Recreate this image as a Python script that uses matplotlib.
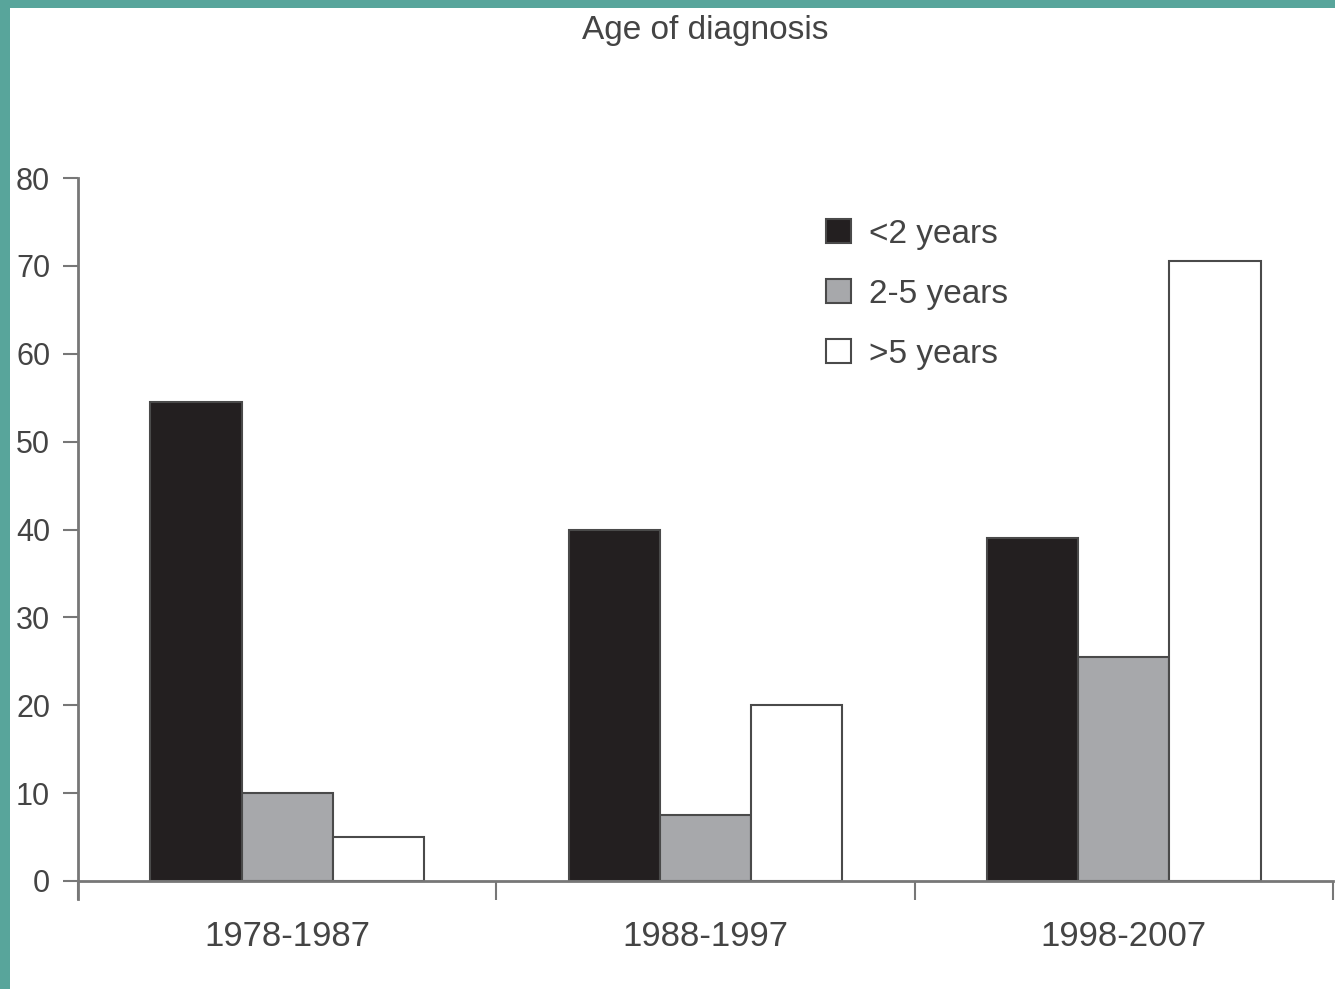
import matplotlib.pyplot as plt
import matplotlib.patches as mpatches
import numpy as np

periods = ["1978-1987", "1988-1997", "1998-2007"]
series_names = ["<2 years", "2-5 years", ">5 years"]
under2 = [54.5, 40, 39]
from2to5 = [10, 7.5, 25.5]
over5 = [5, 20, 70.5]

plt.rcParams['font.family'] = ['Liberation Sans', 'DejaVu Sans']

fig = plt.figure(figsize=(13.35, 9.89), dpi=100)
fig.patch.set_facecolor("#58a59b")
# white panel over the teal border
fig.add_artist(mpatches.Rectangle((10 / 1335, 0), 1, 1 - 8 / 989,
                                  transform=fig.transFigure, facecolor="white",
                                  edgecolor="none", zorder=0))

ax = fig.add_axes([78 / 1335, 1 - 881 / 989, (1333 - 78) / 1335, (881 - 178) / 989])
ax.set_facecolor("white")

x = np.arange(len(periods)) + 0.5
w = 0.218
edge = "#4a4a4a"
ax.bar(x - w, under2, w, color="#231f20", edgecolor=edge, linewidth=1.5, label=series_names[0])
ax.bar(x, from2to5, w, color="#a7a8ab", edgecolor=edge, linewidth=1.5, label=series_names[1])
ax.bar(x + w, over5, w, color="white", edgecolor=edge, linewidth=1.5, label=series_names[2])

ax.set_xlim(0, 3)
ax.set_ylim(0, 80)
ax.set_yticks(range(0, 81, 10))
ax.set_xticks(x)
ax.set_xticklabels(periods)
ax.set_xticks([0, 1, 2, 3], minor=True)
ax.tick_params(axis="x", which="major", length=0, pad=28, labelsize=25, colors="#444444")
ax.tick_params(axis="x", which="minor", length=14, width=1.5, color="#777777")
ax.tick_params(axis="y", length=11, width=1.5, color="#777777", labelsize=22,
               labelcolor="#444444", pad=9)

for s in ["top", "right"]:
    ax.spines[s].set_visible(False)
for s in ["left", "bottom"]:
    ax.spines[s].set_color("#777777")
    ax.spines[s].set_linewidth(2)
ax.spines["left"].set_bounds(-2, 80)
ax.set_ylim(0, 80)

leg = ax.legend(loc="upper left", bbox_to_anchor=(0.572, 0.985), frameon=False,
                fontsize=24, handlelength=0.75, handleheight=0.75, handletextpad=0.55,
                labelspacing=0.87, labelcolor="#444444")

fig.text(705 / 1335, 1 - 30 / 989, "Age of diagnosis", ha="center", va="center",
         fontsize=24, color="#444444")

fig.savefig("out.png", dpi=100)
